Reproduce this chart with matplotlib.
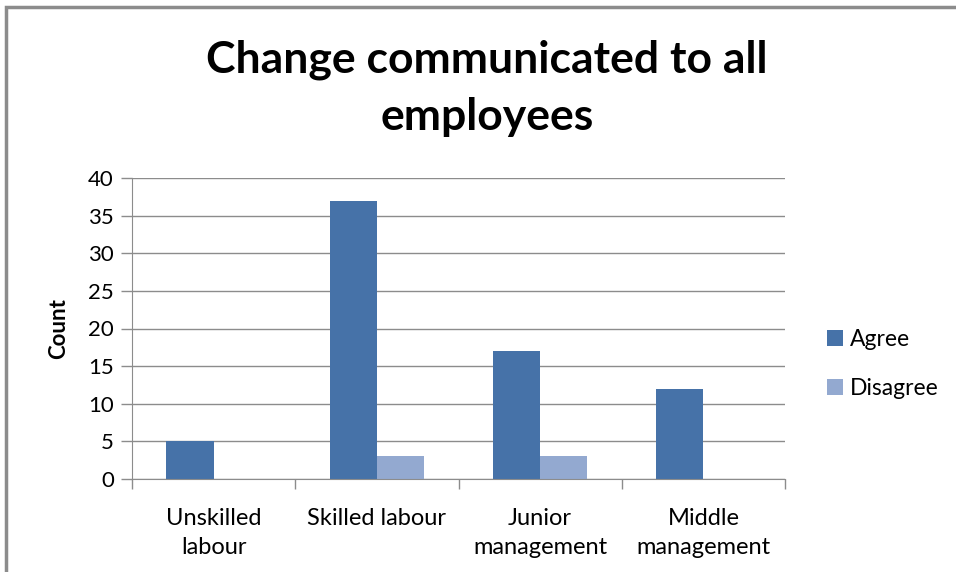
import numpy as np
import matplotlib.pyplot as plt
from matplotlib.patches import Rectangle

categories = ['Unskilled\nlabour', 'Skilled labour', 'Junior\nmanagement', 'Middle\nmanagement']
agree = [5, 37, 17, 12]
disagree = [0, 3, 3, 0]
yticks = [0, 5, 10, 15, 20, 25, 30, 35, 40]

plt.rcParams['font.family'] = ['Lato', 'DejaVu Sans']

W, H = 956, 572
fig = plt.figure(figsize=(W / 100, H / 100), dpi=100)

# outer chart frame (only top and left visible in the crop)
fig.patches.append(Rectangle((6 / W, -0.1), 1.2, (H - 7) / H + 0.1, transform=fig.transFigure,
                             fill=False, edgecolor='#8c8c8c', linewidth=2.5))

ax = fig.add_axes([132 / W, 1 - 479 / H, (785 - 132) / W, (479 - 178) / H])

x = np.arange(len(categories))
bw = 0.29
ax.bar(x - bw / 2, agree, bw, color='#4672A8', label='Agree')
ax.bar(x + bw / 2, disagree, bw, color='#93A9D0', label='Disagree')

ax.set_xlim(-0.5, len(categories) - 0.5)
ax.set_ylim(0, 40)
ax.set_yticks(yticks)
ax.yaxis.grid(True, color='#8c8c8c', linewidth=1)
ax.set_axisbelow(True)
ax.tick_params(axis='y', length=8, width=1, color='#8c8c8c', labelsize=16, pad=5)
ax.set_xticks(np.arange(len(categories) + 1) - 0.5, minor=False)
ax.set_xticklabels([])
ax.tick_params(axis='x', length=7, width=1, color='#8c8c8c')
ax.set_xticks(x, minor=True)
ax.set_xticklabels(categories, minor=True, fontsize=17, linespacing=1.45)
ax.tick_params(axis='x', which='minor', length=0, pad=21)

for s in ['top', 'right']:
    ax.spines[s].set_visible(False)
for s in ['left', 'bottom']:
    ax.spines[s].set_color('#8c8c8c')

ax.set_ylabel('Count', fontsize=16, fontweight='bold', labelpad=14)

fig.text(487 / W, 1 - 60 / H, 'Change communicated to all', ha='center', va='center',
         fontsize=32, fontweight='bold')
fig.text(487 / W, 1 - 117 / H, 'employees', ha='center', va='center',
         fontsize=32, fontweight='bold')

fig.legend(loc='center left', bbox_to_anchor=(806 / W, 1 - 364 / H), frameon=False,
           fontsize=16.5, handlelength=0.7, handleheight=0.7, handletextpad=0.3,
           labelspacing=1.2)

fig.savefig('out.png', dpi=100, facecolor='white')
